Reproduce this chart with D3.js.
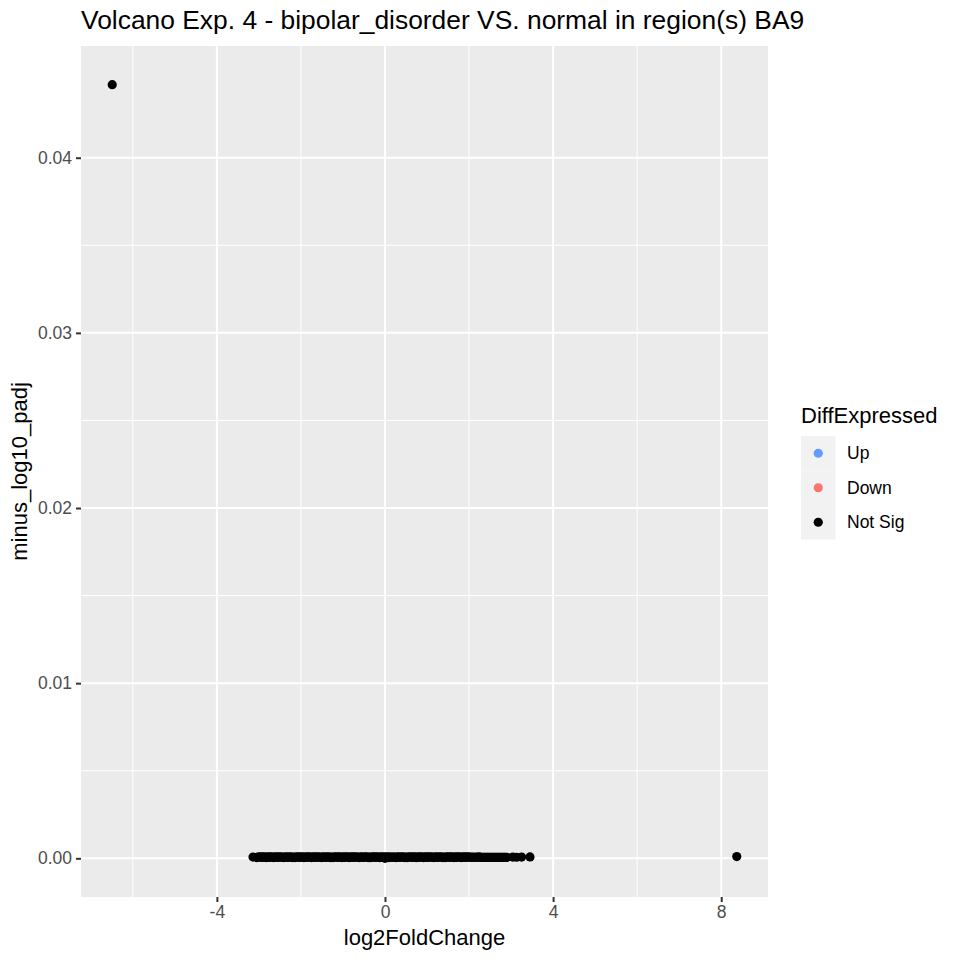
<!DOCTYPE html>
<html>
<head>
<meta charset="utf-8">
<script src="https://cdn.jsdelivr.net/npm/d3@7"></script>
<style>
  body { margin: 0; background: #ffffff; }
  svg text { font-family: "Liberation Sans", Arial, Helvetica, sans-serif; }
</style>
</head>
<body>
<div id="chart"></div>
<script>
// log2FoldChange per gene (the bulk forms a dense band near 0)
const log2FoldChange = [
    -6.49, 8.37,
    -3.14, -3.05, -3.01, -2.98, -2.95, -2.92, -2.89, -2.86, -2.83, -2.80,
    -2.77, -2.74, -2.71, -2.68, -2.65, -2.62, -2.59, -2.56, -2.53, -2.50,
    -2.47, -2.44, -2.41, -2.38, -2.35, -2.32, -2.29, -2.26, -2.23, -2.20,
    -2.17, -2.14, -2.11, -2.08, -2.05, -2.02, -1.99, -1.96, -1.93, -1.90,
    -1.87, -1.84, -1.81, -1.78, -1.75, -1.72, -1.69, -1.66, -1.63, -1.60,
    -1.57, -1.54, -1.51, -1.48, -1.45, -1.42, -1.39, -1.36, -1.33, -1.30,
    -1.27, -1.24, -1.21, -1.18, -1.15, -1.12, -1.09, -1.06, -1.03, -1.00,
    -0.97, -0.94, -0.91, -0.88, -0.85, -0.82, -0.79, -0.76, -0.73, -0.70,
    -0.67, -0.64, -0.61, -0.58, -0.55, -0.52, -0.49, -0.46, -0.43, -0.40,
    -0.37, -0.34, -0.31, -0.28, -0.25, -0.22, -0.19, -0.16, -0.13, -0.10,
    -0.07, -0.04, -0.01, 0.00, 0.02, 0.05, 0.08, 0.11, 0.14, 0.17,
    0.20, 0.23, 0.26, 0.29, 0.32, 0.35, 0.38, 0.41, 0.44, 0.47,
    0.50, 0.53, 0.56, 0.59, 0.62, 0.65, 0.68, 0.71, 0.74, 0.77,
    0.80, 0.83, 0.86, 0.89, 0.92, 0.95, 0.98, 1.01, 1.04, 1.07,
    1.10, 1.13, 1.16, 1.19, 1.22, 1.25, 1.28, 1.31, 1.34, 1.37,
    1.40, 1.43, 1.46, 1.49, 1.52, 1.55, 1.58, 1.61, 1.64, 1.67,
    1.70, 1.73, 1.76, 1.79, 1.82, 1.85, 1.88, 1.91, 1.94, 1.97,
    2.00, 2.03, 2.06, 2.09, 2.12, 2.15, 2.18, 2.21, 2.24, 2.27,
    2.30, 2.33, 2.36, 2.39, 2.42, 2.45, 2.48, 2.51, 2.54, 2.57,
    2.60, 2.63, 2.66, 2.69, 2.72, 2.75, 2.78, 2.81, 2.84, 2.87,
    2.90, 3.04, 3.13, 3.25, 3.45
];

// minus_log10_padj per gene, same order
const minusLog10Padj = [
    0.04417, 0.00010,
    0.00007, 0.00004, 0.00009, 0.00006, 0.00008, 0.00005, 0.00009, 0.00007, 0.00004, 0.00008,
    0.00005, 0.00009, 0.00006, 0.00008, 0.00004, 0.00007, 0.00009, 0.00005, 0.00008, 0.00006,
    0.00008, 0.00006, 0.00004, 0.00009, 0.00007, 0.00005, 0.00008, 0.00006, 0.00009, 0.00004,
    0.00007, 0.00004, 0.00009, 0.00006, 0.00008, 0.00005, 0.00009, 0.00007, 0.00004, 0.00008,
    0.00005, 0.00009, 0.00006, 0.00008, 0.00004, 0.00007, 0.00009, 0.00005, 0.00008, 0.00006,
    0.00008, 0.00006, 0.00004, 0.00009, 0.00007, 0.00005, 0.00008, 0.00006, 0.00009, 0.00004,
    0.00007, 0.00004, 0.00009, 0.00006, 0.00008, 0.00005, 0.00009, 0.00007, 0.00004, 0.00008,
    0.00005, 0.00009, 0.00006, 0.00008, 0.00004, 0.00007, 0.00009, 0.00005, 0.00008, 0.00006,
    0.00008, 0.00006, 0.00004, 0.00009, 0.00007, 0.00005, 0.00008, 0.00006, 0.00009, 0.00004,
    0.00007, 0.00004, 0.00009, 0.00006, 0.00008, 0.00005, 0.00009, 0.00007, 0.00004, 0.00008,
    0.00006, 0.00008, 0.00005, 0.00000, 0.00007, 0.00009, 0.00004, 0.00008, 0.00006, 0.00005,
    0.00008, 0.00006, 0.00004, 0.00009, 0.00007, 0.00005, 0.00008, 0.00006, 0.00009, 0.00004,
    0.00007, 0.00004, 0.00009, 0.00006, 0.00008, 0.00005, 0.00009, 0.00007, 0.00004, 0.00008,
    0.00005, 0.00009, 0.00006, 0.00008, 0.00004, 0.00007, 0.00009, 0.00005, 0.00008, 0.00006,
    0.00008, 0.00006, 0.00004, 0.00009, 0.00007, 0.00005, 0.00008, 0.00006, 0.00009, 0.00004,
    0.00007, 0.00004, 0.00009, 0.00006, 0.00008, 0.00005, 0.00009, 0.00007, 0.00004, 0.00008,
    0.00005, 0.00009, 0.00006, 0.00008, 0.00004, 0.00007, 0.00009, 0.00005, 0.00008, 0.00006,
    0.00008, 0.00006, 0.00005, 0.00007, 0.00006, 0.00005, 0.00007, 0.00006, 0.00008, 0.00005,
    0.00006, 0.00005, 0.00006, 0.00005, 0.00006, 0.00005, 0.00006, 0.00005, 0.00006, 0.00005,
    0.00006, 0.00005, 0.00006, 0.00005, 0.00006, 0.00005, 0.00006, 0.00005, 0.00006, 0.00005,
    0.00006, 0.00007, 0.00006, 0.00007, 0.00008
];

const groups = ["Up", "Down", "Not Sig"];
const groupColors = ["#619CFF", "#F8766D", "#000000"];

const xTicks = [-4, 0, 4, 8];
const xMinorTicks = [-6, -2, 2, 6];
const yTicks = [0, 0.01, 0.02, 0.03, 0.04];
const yMinorTicks = [0.005, 0.015, 0.025, 0.035];

const width = 960;
const height = 960;
const margin = { top: 46, right: 192, bottom: 63, left: 81 };

const svg = d3.select("#chart")
    .append("svg")
    .attr("width", width)
    .attr("height", height);

const panelW = width - margin.left - margin.right;
const panelH = height - margin.top - margin.bottom;

// ggplot style 5% expansion of the data range
const expand = (ext) => {
    const pad = (ext[1] - ext[0]) * 0.05;
    return [ext[0] - pad, ext[1] + pad];
};

const x = d3.scaleLinear()
    .domain(expand(d3.extent(log2FoldChange)))
    .range([margin.left, margin.left + panelW]);

const y = d3.scaleLinear()
    .domain(expand(d3.extent(minusLog10Padj)))
    .range([margin.top + panelH, margin.top]);

const color = d3.scaleOrdinal().domain(groups).range(groupColors);

// panel background
svg.append("rect")
    .attr("x", margin.left)
    .attr("y", margin.top)
    .attr("width", panelW)
    .attr("height", panelH)
    .attr("fill", "#ebebeb");

const grid = svg.append("g");

grid.selectAll(".xminor")
    .data(xMinorTicks)
    .enter()
    .append("line")
    .attr("x1", d => x(d)).attr("x2", d => x(d))
    .attr("y1", margin.top).attr("y2", margin.top + panelH)
    .attr("stroke", "#ffffff").attr("stroke-width", 1);

grid.selectAll(".yminor")
    .data(yMinorTicks)
    .enter()
    .append("line")
    .attr("y1", d => y(d)).attr("y2", d => y(d))
    .attr("x1", margin.left).attr("x2", margin.left + panelW)
    .attr("stroke", "#ffffff").attr("stroke-width", 1);

grid.selectAll(".xmajor")
    .data(xTicks)
    .enter()
    .append("line")
    .attr("x1", d => x(d)).attr("x2", d => x(d))
    .attr("y1", margin.top).attr("y2", margin.top + panelH)
    .attr("stroke", "#ffffff").attr("stroke-width", 2);

grid.selectAll(".ymajor")
    .data(yTicks)
    .enter()
    .append("line")
    .attr("y1", d => y(d)).attr("y2", d => y(d))
    .attr("x1", margin.left).attr("x2", margin.left + panelW)
    .attr("stroke", "#ffffff").attr("stroke-width", 2);

// points
svg.append("g")
    .selectAll("circle")
    .data(log2FoldChange.map((v, i) => ({ lfc: v, p: minusLog10Padj[i], group: "Not Sig" })))
    .enter()
    .append("circle")
    .attr("cx", d => x(d.lfc))
    .attr("cy", d => y(d.p))
    .attr("r", 4.6)
    .attr("fill", d => color(d.group));

// axes
const xAxis = svg.append("g")
    .attr("transform", `translate(0,${margin.top + panelH})`)
    .call(d3.axisBottom(x).tickValues(xTicks).tickFormat(d => String(d)).tickSize(5).tickPadding(4));

const yAxis = svg.append("g")
    .attr("transform", `translate(${margin.left},0)`)
    .call(d3.axisLeft(y).tickValues(yTicks).tickFormat(d3.format(".2f")).tickSize(5).tickPadding(4));

[xAxis, yAxis].forEach(ax => {
    ax.select(".domain").remove();
    ax.selectAll(".tick line").attr("stroke", "#333333").attr("stroke-width", 2);
    ax.selectAll(".tick text")
        .attr("fill", "#4d4d4d")
        .style("font-size", "17.5px");
});

// titles
svg.append("text")
    .attr("x", margin.left)
    .attr("y", 29)
    .style("font-size", "26.4px")
    .attr("fill", "#000000")
    .text("Volcano Exp. 4 - bipolar_disorder VS. normal in region(s) BA9");

svg.append("text")
    .attr("x", margin.left + panelW / 2)
    .attr("y", 945)
    .attr("text-anchor", "middle")
    .style("font-size", "22px")
    .text("log2FoldChange");

svg.append("text")
    .attr("transform", `translate(27,${margin.top + panelH / 2}) rotate(-90)`)
    .attr("text-anchor", "middle")
    .style("font-size", "22px")
    .text("minus_log10_padj");

// legend
const legend = svg.append("g")
    .attr("transform", "translate(801, 0)");

legend.append("text")
    .attr("x", 0)
    .attr("y", 423)
    .style("font-size", "22px")
    .text("DiffExpressed");

const keySize = 34.5;
groups.forEach((g, i) => {
    const row = legend.append("g")
        .attr("transform", `translate(0, ${436 + i * keySize})`);

    row.append("rect")
        .attr("width", keySize)
        .attr("height", keySize)
        .attr("fill", "#f2f2f2");

    row.append("circle")
        .attr("cx", keySize / 2)
        .attr("cy", keySize / 2)
        .attr("r", 4.6)
        .attr("fill", color(g));

    row.append("text")
        .attr("x", 46)
        .attr("y", keySize / 2 + 6)
        .style("font-size", "17.5px")
        .text(g);
});
</script>
</body>
</html>
